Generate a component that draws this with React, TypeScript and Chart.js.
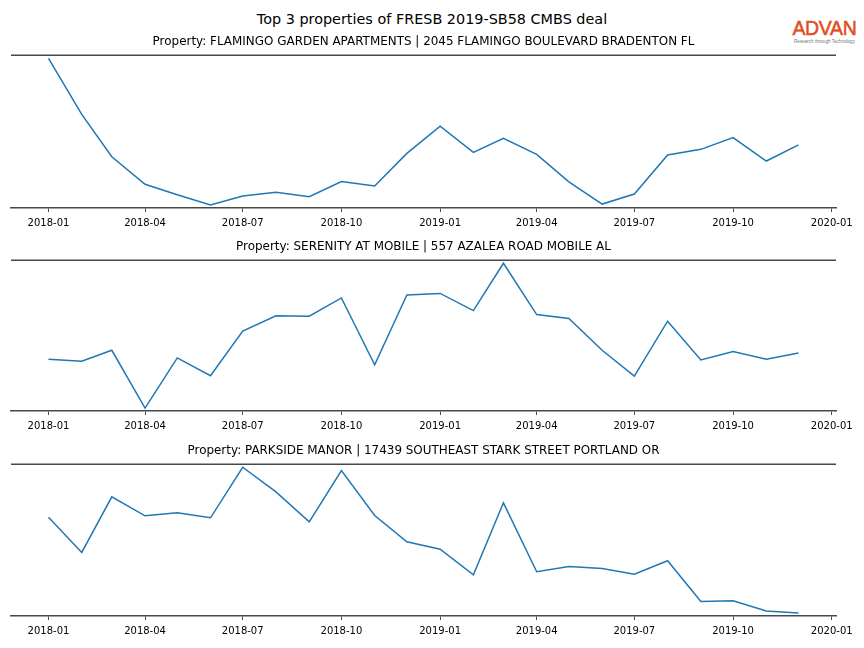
import React, { useEffect, useRef } from "react";
import { Chart, registerables } from "chart.js";

Chart.register(...registerables);

const mainTitle = "Top 3 properties of FRESB 2019-SB58 CMBS deal";

const months = [
  "2018-01", "2018-02", "2018-03", "2018-04", "2018-05", "2018-06",
  "2018-07", "2018-08", "2018-09", "2018-10", "2018-11", "2018-12",
  "2019-01", "2019-02", "2019-03", "2019-04", "2019-05", "2019-06",
  "2019-07", "2019-08", "2019-09", "2019-10", "2019-11", "2019-12",
];

const tickLabels = [
  "2018-01", "2018-04", "2018-07", "2018-10",
  "2019-01", "2019-04", "2019-07", "2019-10", "2020-01",
];

const flamingoTitle = "Property: FLAMINGO GARDEN APARTMENTS | 2045 FLAMINGO BOULEVARD BRADENTON FL";
const flamingoValues = [
  148.4, 92.7, 50.7, 23.4, 13.0, 2.7, 11.7, 15.4, 11.0, 26.0, 21.7, 54.0,
  81.0, 55.0, 69.0, 53.0, 25.7, 3.7, 13.7, 52.4, 58.0, 69.7, 46.4, 62.4,
];

const serenityTitle = "Property: SERENITY AT MOBILE | 557 AZALEA ROAD MOBILE AL";
const serenityValues = [
  50.7, 48.7, 59.7, 1.4, 52.0, 34.0, 79.0, 94.4, 94.0, 112.4, 45.0, 115.4,
  117.0, 99.7, 147.4, 95.7, 91.7, 59.7, 33.7, 89.0, 50.0, 58.4, 50.7, 57.0,
];

const parksideTitle = "Property: PARKSIDE MANOR | 17439 SOUTHEAST STARK STREET PORTLAND OR";
const parksideValues = [
  98.0, 62.7, 118.4, 99.4, 102.4, 97.4, 148.0, 123.4, 93.4, 144.7, 99.7, 73.4,
  66.0, 40.4, 112.4, 43.4, 48.7, 46.7, 41.0, 54.4, 13.7, 14.4, 4.0, 2.0,
];

const FONT = "'DejaVu Sans', sans-serif";
const SPINE = "#484848";
const LINE = "#1f77b4";

function toDays(s: string): number {
  const [y, m] = s.split("-").map(Number);
  return Date.UTC(y, m - 1, 1) / 86400000;
}

const topSpine = {
  id: "topSpine",
  afterDraw(chart: any) {
    const { ctx, chartArea } = chart;
    ctx.save();
    ctx.strokeStyle = SPINE;
    ctx.lineWidth = 1.5;
    ctx.beginPath();
    ctx.moveTo(chartArea.left, chartArea.top);
    ctx.lineTo(chartArea.right, chartArea.top);
    ctx.stroke();
    ctx.restore();
  },
};

function PropertyChart(props: { title: string; values: number[]; top: number; height: number }) {
  const ref = useRef<HTMLCanvasElement | null>(null);
  useEffect(() => {
    if (!ref.current) return;
    const xs = months.map(toDays);
    const xMinData = Math.min(...xs);
    const xMaxData = Math.max(...xs);
    const xSpan = xMaxData - xMinData;
    const yMinData = Math.min(...props.values);
    const yMaxData = Math.max(...props.values);
    const ySpan = yMaxData - yMinData;
    const tickValues = tickLabels.map(toDays);
    const labelFor = new Map<number, string>();
    tickLabels.forEach((t) => labelFor.set(toDays(t), t));

    const chart = new Chart(ref.current, {
      type: "line",
      data: {
        datasets: [
          {
            data: months.map((m, i) => ({ x: toDays(m), y: props.values[i] })),
            borderColor: LINE,
            borderWidth: 1.5,
            pointRadius: 0,
            tension: 0,
            fill: false,
          },
        ],
      },
      options: {
        animation: false,
        responsive: false,
        devicePixelRatio: 1,
        layout: { padding: { left: 11, right: 28, top: 0, bottom: 0 } },
        plugins: {
          legend: { display: false },
          tooltip: { enabled: false },
          title: {
            display: true,
            text: props.title,
            color: "#000",
            font: { family: FONT, size: 11.95, weight: "normal" as any },
            padding: { top: 0, bottom: 6 },
          },
        },
        scales: {
          x: {
            type: "linear",
            min: xMinData - 0.05 * xSpan,
            max: xMaxData + 0.05 * xSpan,
            afterBuildTicks: (axis: any) => {
              axis.ticks = tickValues.map((v) => ({ value: v }));
            },
            ticks: {
              autoSkip: false,
              maxRotation: 0,
              color: "#000",
              padding: 5,
              font: { family: FONT, size: 10 },
              callback: (v: any) => labelFor.get(Number(v)) ?? "",
            },
            grid: {
              display: true,
              drawOnChartArea: false,
              drawTicks: true,
              tickLength: 4,
              color: SPINE,
              lineWidth: 1,
            },
            border: { display: true, color: SPINE, width: 1.5 },
          },
          y: {
            display: false,
            min: yMinData - 0.02 * ySpan,
            max: yMaxData + 0.02 * ySpan,
          },
        },
      },
      plugins: [topSpine],
    });
    return () => chart.destroy();
  }, [props.title, props.values]);

  return (
    <canvas
      ref={ref}
      width={864}
      height={props.height}
      style={{ position: "absolute", left: 0, top: props.top, width: 864, height: props.height }}
    />
  );
}

export default function App() {
  return (
    <div
      style={{
        position: "fixed",
        left: 0,
        top: 0,
        width: 864,
        height: 648,
        background: "#fff",
        overflow: "hidden",
      }}
    >
      <div
        style={{
          position: "absolute",
          left: 0,
          top: 10,
          width: 864,
          textAlign: "center",
          fontFamily: FONT,
          fontSize: 14.4,
          lineHeight: "18px",
          color: "#000",
        }}
      >
        {mainTitle}
      </div>
      <div
        style={{
          position: "absolute",
          left: 789,
          top: 17,
          width: 71,
          textAlign: "center",
          fontFamily: "'Liberation Sans', Arial, sans-serif",
          color: "#e04e22",
        }}
      >
        <div
          style={{
            fontSize: 19.5,
            lineHeight: "22px",
            letterSpacing: -0.3,
            WebkitTextStroke: "0.5px #e04e22",
          }}
        >
          ADVAN
        </div>
        <div style={{ fontSize: 4.6, lineHeight: "5px", color: "#777", whiteSpace: "nowrap" }}>
          Research through Technology
        </div>
      </div>
      <PropertyChart title={flamingoTitle} values={flamingoValues} top={35} height={199} />
      <PropertyChart title={serenityTitle} values={serenityValues} top={240} height={197} />
      <PropertyChart title={parksideTitle} values={parksideValues} top={444} height={198} />
    </div>
  );
}
